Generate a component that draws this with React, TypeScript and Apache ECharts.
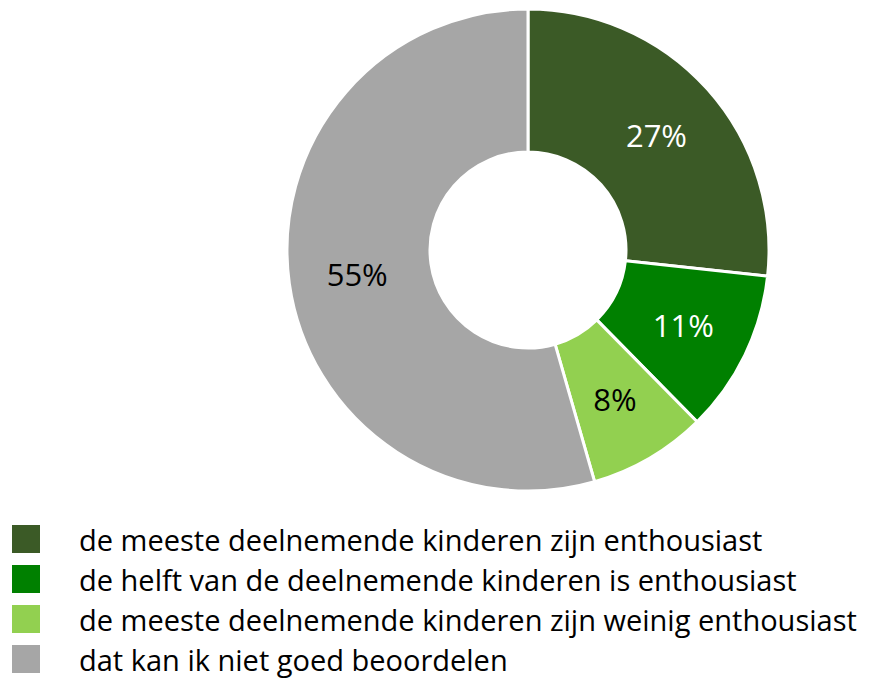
import React, { useEffect, useRef } from "react";
import * as echarts from "echarts";

const categories = [
  "de meeste deelnemende kinderen zijn enthousiast",
  "de helft van de deelnemende kinderen is enthousiast",
  "de meeste deelnemende kinderen zijn weinig enthousiast",
  "dat kan ik niet goed beoordelen",
];
const values = [27, 11, 8, 55];
const colors = ["#3B5A26", "#008000", "#92D050", "#A6A6A6"];
const labelColors = ["#FFFFFF", "#FFFFFF", "#000000", "#000000"];

export default function App() {
  const ref = useRef<HTMLDivElement>(null);
  useEffect(() => {
    document.body.style.margin = "0";
    const chart = echarts.init(ref.current!, undefined, { renderer: "svg" });
    chart.setOption({
      animation: false,
      textStyle: { fontFamily: "Open Sans" },
      legend: {
        orient: "vertical",
        left: 10,
        top: 523,
        height: 160,
        padding: 0,
        itemWidth: 30,
        itemHeight: 30,
        itemGap: 8,
        icon: "rect",
        textStyle: {
          fontFamily: "Open Sans",
          fontSize: 29,
          lineHeight: 30,
          color: "#000",
          padding: [0, 0, 0, 33],
        },
        data: categories,
      },
      series: [
        {
          type: "pie",
          center: [528, 250],
          radius: [98, 241],
          startAngle: 90,
          clockwise: true,
          itemStyle: { borderColor: "#fff", borderWidth: 3 },
          label: {
            position: "inside",
            formatter: "{c}%",
            fontFamily: "Open Sans",
            fontSize: 31,
          },
          labelLine: { show: false },
          emphasis: { disabled: true },
          data: categories.map((name, i) => ({
            name,
            value: values[i],
            itemStyle: { color: colors[i] },
            label: { color: labelColors[i] },
          })),
        },
      ],
    });
    return () => chart.dispose();
  }, []);
  return <div ref={ref} style={{ width: 869, height: 678 }} />;
}
